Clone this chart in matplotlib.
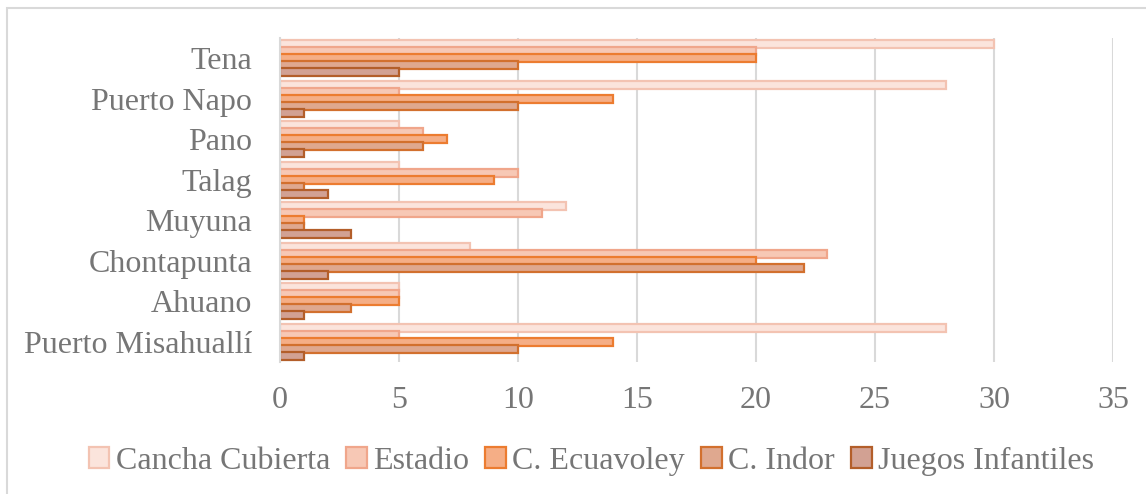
import numpy as np
import matplotlib.pyplot as plt
from matplotlib.patches import Rectangle

plt.rcParams['font.family'] = ['Liberation Serif', 'DejaVu Serif']

places = ['Tena', 'Puerto Napo', 'Pano', 'Talag', 'Muyuna', 'Chontapunta',
          'Ahuano', 'Puerto Misahuallí']
series_names = ['Cancha Cubierta', 'Estadio', 'C. Ecuavoley', 'C. Indor',
                'Juegos Infantiles']
cancha_cubierta = [30, 28, 5, 5, 12, 8, 5, 28]
estadio = [20, 5, 6, 10, 11, 23, 5, 5]
ecuavoley = [20, 14, 7, 9, 1, 20, 5, 14]
indor = [10, 10, 6, 1, 1, 22, 3, 10]
juegos = [5, 1, 1, 2, 3, 2, 1, 1]
x_ticks = [0, 5, 10, 15, 20, 25, 30, 35]

fills = ['#fbe4dc', '#f7c8b5', '#f5ae86', '#dfa88f', '#d2a193']
edges = ['#f3c3b2', '#f0a68b', '#ec7c30', '#d2702e', '#b35e2a']
text_gray = '#767676'
grid_gray = '#d9d9d9'

fig = plt.figure(figsize=(11.46, 4.94), dpi=100)
ax = fig.add_axes([280 / 1146, 1 - 362 / 494, 833 / 1146, 324 / 494])

y = np.arange(len(places))
step = 0.172
h = 0.20
all_vals = [cancha_cubierta, estadio, ecuavoley, indor, juegos]
for k, vals in enumerate(all_vals):
    ax.barh(y + (k - 2) * step, vals, height=h, color=fills[k],
            edgecolor=edges[k], linewidth=1.6, label=series_names[k], zorder=3)

ax.set_xlim(0, 35)
ax.set_ylim(len(places) - 0.5, -0.5)
ax.set_xticks(x_ticks)
ax.set_yticks(y)
ax.set_yticklabels(places)
ax.tick_params(length=0, labelsize=23, colors=text_gray)
ax.tick_params(axis='x', pad=17)
ax.tick_params(axis='y', pad=20)
ax.grid(axis='x', color=grid_gray, linewidth=1.5, zorder=0)
for s in ['top', 'right', 'bottom']:
    ax.spines[s].set_visible(False)
ax.spines['left'].set_color(grid_gray)
ax.spines['left'].set_linewidth(1.5)
ax.spines['left'].set_zorder(4)

# outer chart border
fig.patches.append(Rectangle((7 / 1146, -0.05), 1.2, 1 - 8 / 494 + 0.05,
                             transform=fig.transFigure, fill=False,
                             edgecolor=grid_gray, linewidth=1.5))

fig.legend(loc='center', bbox_to_anchor=(0.516, 1 - 461 / 494), ncol=5,
           frameon=False, fontsize=23, labelcolor=text_gray,
           handlelength=0.65, handleheight=0.65, handletextpad=0.2,
           columnspacing=0.5, borderpad=0)

fig.savefig('out.png', dpi=100)
